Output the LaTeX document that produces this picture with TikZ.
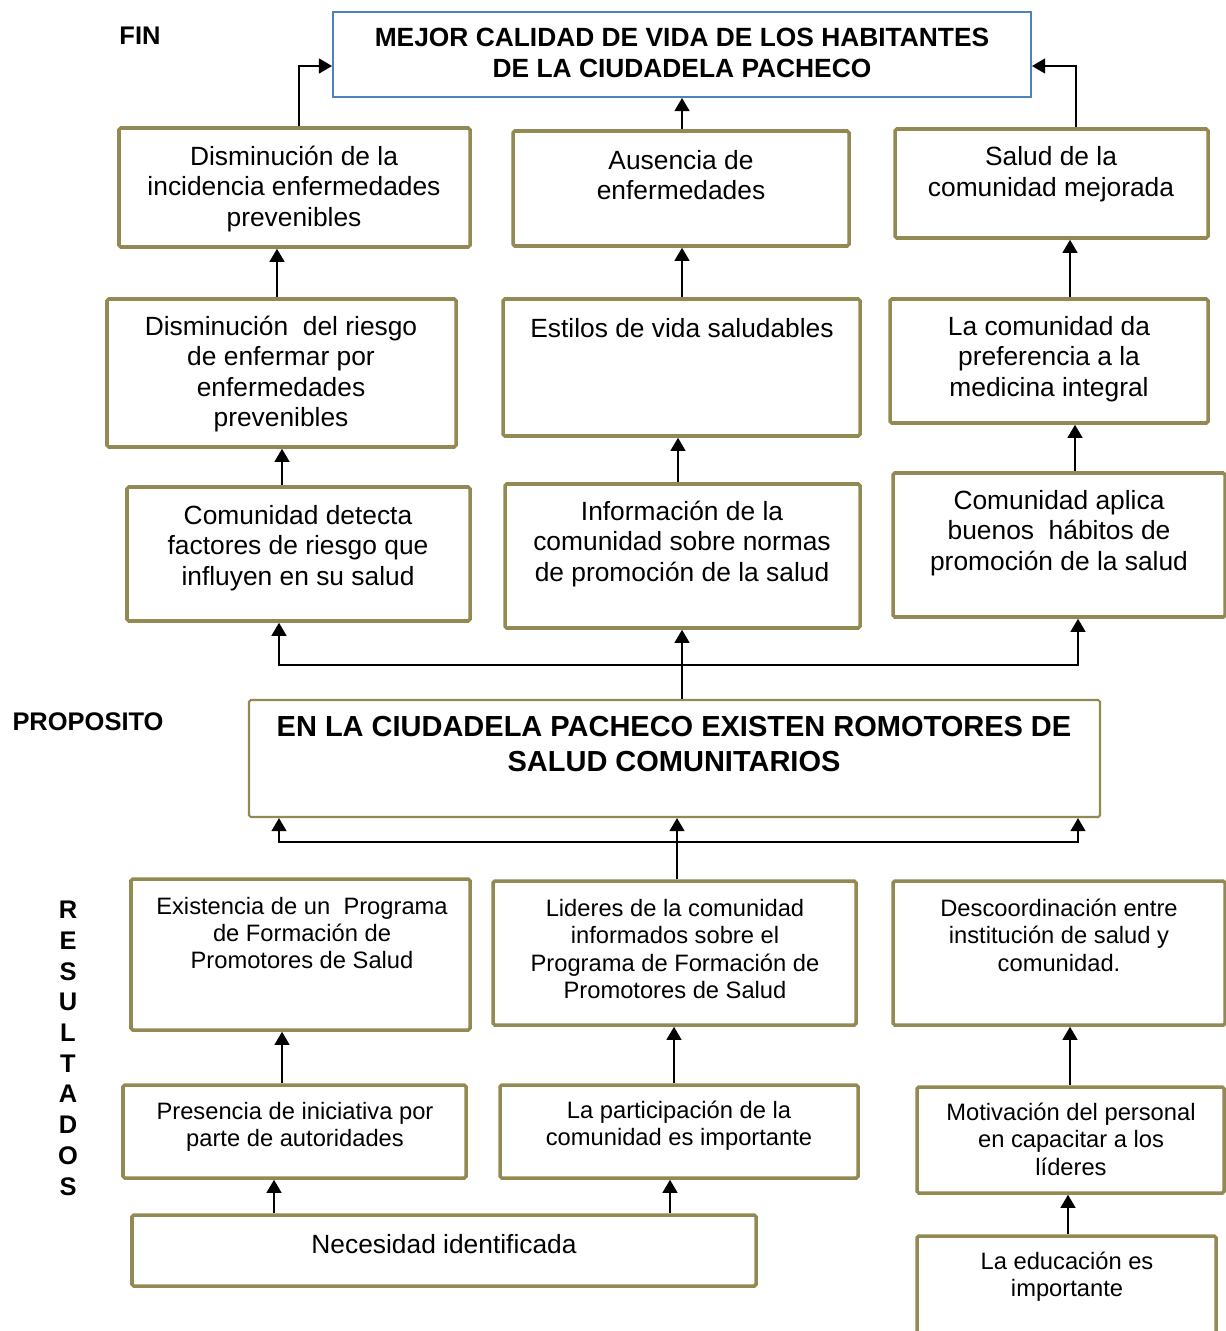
\documentclass[tikz,border=0pt]{standalone}
\usepackage{fontspec}
\setmainfont{Liberation Sans}
\usetikzlibrary{arrows.meta,fit}
\definecolor{oliva}{RGB}{147,137,83}
\definecolor{azul}{RGB}{79,129,189}

\tikzset{
  caja/.style={draw=oliva, line width=2pt, rounded corners=1pt, inner sep=0pt},
  cajafin/.style={draw=azul, line width=1.1pt, inner sep=0pt},
  txt/.style={align=center, font=\fontsize{15}{17.4}\selectfont, inner sep=0pt},
  txtp/.style={align=center, font=\fontsize{13.5}{15.6}\selectfont, inner sep=0pt},
  tit/.style={align=center, font=\bfseries\fontsize{15}{18.1}\selectfont, inner sep=0pt},
  etiq/.style={font=\bfseries\fontsize{14.5}{17}\selectfont, inner sep=0pt},
  flecha/.style={-{Triangle[length=7.5pt,width=8.5pt]}, line width=1.1pt},
  linea/.style={line width=1.1pt}
}

\begin{document}
\begin{tikzpicture}[x=0.02cm, y=-0.02cm]
        \useasboundingbox (0,0) rectangle (1226,1331);

        % fin
        \node[cajafin, fit={(333,12) (1031,97)}] (fin) {};
        \node[tit] (tfin) at (682,53) {MEJOR CALIDAD DE VIDA DE LOS HABITANTES\\DE LA CIUDADELA PACHECO};
        \node[etiq] (lfin) at (140,36) {FIN};

        % fila a
        \node[caja, fit={(119,128) (470,247)}] (a1) {};
        \node[caja, fit={(513,131) (849,246)}] (a2) {};
        \node[caja, fit={(895,129) (1208,238)}] (a3) {};
        \node[txt] (ta1) at (294,189) {Disminución de la\\incidencia enfermedades\\prevenibles};
        \node[txt] (ta2) at (681,175) {Ausencia de\\enfermedades};
        \node[txt] (ta3) at (1051,174) {Salud de la\\comunidad mejorada};

        % fila b
        \node[caja, fit={(107,299) (456,447)}] (b1) {};
        \node[caja, fit={(503,299) (860,436)}] (b2) {};
        \node[caja, fit={(890,299) (1208,423)}] (b3) {};
        \node[txt] (tb1) at (281,374) {Disminución\ \ del riesgo\\de enfermar por\\enfermedades\\prevenibles};
        \node[txt] (tb2) at (682,328) {Estilos de vida saludables};
        \node[txt] (tb3) at (1049,359) {La comunidad da\\preferencia a la\\medicina integral};

        % fila c
        \node[caja, fit={(127,487) (470,621)}] (c1) {};
        \node[caja, fit={(505,484) (860,628)}] (c2) {};
        \node[caja, fit={(893,473) (1225,617)}] (c3) {};
        \node[txt] (tc1) at (298,548) {Comunidad detecta\\factores de riesgo que\\influyen en su salud};
        \node[txt] (tc2) at (682,544) {Información de la\\comunidad sobre normas\\de promoción de la salud};
        \node[txt] (tc3) at (1059,533) {Comunidad aplica\\buenos\ \ hábitos de\\promoción de la salud};

        % proposito
        \node[caja, line width=1.2pt, fit={(249,700) (1100,817)}] (pro) {};
        \node[tit, font=\bfseries\fontsize{16.5}{19.4}\selectfont] (tpro) at (674,744) {EN LA CIUDADELA PACHECO EXISTEN ROMOTORES DE\\SALUD COMUNITARIOS};
        \node[etiq] (lpro) at (88,722) {PROPOSITO};

        % fila d
        \node[caja, fit={(131,879) (470,1030)}] (d1) {};
        \node[caja, fit={(493,881) (856,1025)}] (d2) {};
        \node[caja, fit={(893,881) (1225,1025)}] (d3) {};
        \node[txtp] (td1) at (302,933) {Existencia de un\ \ Programa\\de Formación de\\Promotores de Salud};
        \node[txtp] (td2) at (675,949) {Lideres de la comunidad\\informados sobre el\\Programa de Formación de\\Promotores de Salud};
        \node[txtp] (td3) at (1059,935) {Descoordinación entre\\institución de salud y\\comunidad.};

        % fila e
        \node[caja, fit={(123,1085) (466,1178)}] (e1) {};
        \node[caja, fit={(500,1085) (858,1178)}] (e2) {};
        \node[caja, fit={(917,1087) (1224,1193)}] (e3) {};
        \node[txtp] (te1) at (295,1127) {Presencia de iniciativa por\\parte de autoridades};
        \node[txtp] (te2) at (679,1126) {La participación de la\\comunidad es importante};
        \node[txtp] (te3) at (1071,1139) {Motivación del personal\\en capacitar a los\\líderes};

        % fila f
        \node[caja, fit={(132,1215) (756,1286)}] (f1) {};
        \node[caja, fit={(917,1236) (1216,1350)}] (f2) {};
        \node[txt] (tf1) at (444,1244) {Necesidad identificada};
        \node[txtp] (tf2) at (1067,1277) {La educación es\\importante};

        % resultados
        \foreach \l [count=\i from 0] in {R,E,S,U,L,T,A,D,O,S}{
            \node[etiq] (r\i) at (68,{910+30.7*\i}) {\l};
        }

        % flechas hacia el fin
        \draw[flecha] (299,0 |- a1.north) |- (fin.west |- 0,66);
        \draw[flecha] (682,0 |- a2.north) -- (682,0 |- fin.south);
        \draw[flecha] (1076,0 |- a3.north) |- (fin.east |- 0,66);
        \draw[flecha] (277,0 |- b1.north) -- (277,0 |- a1.south);
        \draw[flecha] (682,0 |- b2.north) -- (682,0 |- a2.south);
        \draw[flecha] (1070,0 |- b3.north) -- (1070,0 |- a3.south);
        \draw[flecha] (282,0 |- c1.north) -- (282,0 |- b1.south);
        \draw[flecha] (678,0 |- c2.north) -- (678,0 |- b2.south);
        \draw[flecha] (1075,0 |- c3.north) -- (1075,0 |- b3.south);

        % proposito hacia fila c
        \coordinate (bus1) at (682,665);
        \draw[linea] (682,0 |- pro.north) -- (bus1);
        \draw[flecha] (bus1) -- (682,0 |- c2.south);
        \draw[flecha] (bus1) -| (279,0 |- c1.south);
        \draw[flecha] (bus1) -| (1078,0 |- c3.south);

        % resultados hacia proposito
        \coordinate (bus2) at (677,842);
        \draw[linea] (677,0 |- d2.north) -- (bus2);
        \draw[flecha] (bus2) -- (677,0 |- pro.south);
        \draw[flecha] (bus2) -| (279,0 |- pro.south);
        \draw[flecha] (bus2) -| (1078,0 |- pro.south);

        \draw[flecha] (282,0 |- e1.north) -- (282,0 |- d1.south);
        \draw[flecha] (674,0 |- e2.north) -- (674,0 |- d2.south);
        \draw[flecha] (1070,0 |- e3.north) -- (1070,0 |- d3.south);
        \draw[flecha] (274,0 |- f1.north) -- (274,0 |- e1.south);
        \draw[flecha] (670,0 |- f1.north) -- (670,0 |- e2.south);
        \draw[flecha] (1068,0 |- f2.north) -- (1068,0 |- e3.south);
    \end{tikzpicture}
\end{document}
